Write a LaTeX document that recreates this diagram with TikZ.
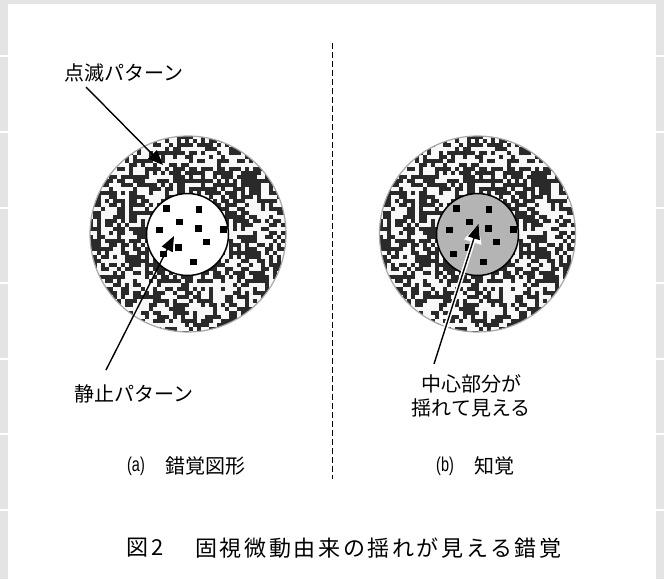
\documentclass[tikz,border=0pt]{standalone}
\usepackage{fontspec}
\setmainfont{Noto Sans CJK JP}
\newfontfamily\condfont{Liberation Sans}[FakeStretch=0.72]
\usetikzlibrary{arrows.meta}
\definecolor{bggray}{HTML}{E4E4E4}
\definecolor{noisecol}{HTML}{2A2A2A}
\definecolor{lightcell}{HTML}{F8F8F8}
\definecolor{rimcol}{HTML}{A8A8A8}
\definecolor{centergray}{HTML}{B4B4B4}
\newcommand\noisedisk[2]{%
  \begin{scope}
    \clip (#1,#2) circle[radius=98];
    \fill[lightcell] (#1,#2) circle[radius=98];
    \pgfmathsetseed{4242}
    \foreach \ii in {0,...,49}{%
      \foreach \jj in {0,...,49}{%
        \pgfmathrandominteger{\rnd}{0}{99}%
        \ifnum\rnd<50
          \fill[noisecol] ({#1-99+4*\ii},{#2-99+4*\jj}) rectangle +(4.05,4.05);
        \fi
      }%
    }
  \end{scope}
  \draw[rimcol, line width=1.2pt] (#1,#2) circle[radius=98];
}
\newcommand\centerdots[2]{%
  \foreach \dx/\dy in {-20.8/-26.2, 11.5/-25, -8.2/-12.5, -28.3/-4.5, 11/-5.8,
                      36/-5.2, 19.2/7.3, -9.2/12.8, -24.2/19.5, 5.8/27.3}{%
    \fill[black] ({#1+\dx-3.3},{#2+\dy-3.3}) rectangle +(6.6,6.6);
  }%
}
\begin{document}
\begin{tikzpicture}[x=1pt,y=-1pt,
  lbl/.style={font=\fontsize{20}{24}\selectfont, inner sep=0pt, text=black},
  cond/.style={font=\condfont\fontsize{20}{24}\selectfont, inner sep=0pt, text=black},
  captxt/.style={font=\fontsize{22}{26}\selectfont\addfontfeature{LetterSpace=12}, inner sep=0pt, text=black},
  ptr/.style={line width=1.4pt, -{Triangle[length=15pt,width=12pt]}},
  halo/.style={white, line width=4.5pt, -{Triangle[length=19pt,width=17pt]}},
  divider/.style={black, line width=0.8pt, dash pattern=on 6pt off 3pt}]
\useasboundingbox (0,0) rectangle (664,579);
\fill[bggray] (0,0) rectangle (664,579);
\fill[white] (8,4) rectangle (656,579);
\foreach \yy in {55,131,207,282,358,433,509}{%
  \fill[white] (0,\yy) rectangle (8,{\yy+1.5});
  \fill[white] (656,\yy) rectangle (664,{\yy+1.5});
}
% divider
\coordinate (dTop) at (332,43);
\coordinate (dBot) at (332,479);
\draw[divider] (dTop) -- (dBot);
% left figure
\noisedisk{188}{234}
\draw[black, line width=1.5pt, fill=white] (187.5,234.5) circle[radius=41];
\centerdots{187.5}{234.5}
% right figure
\noisedisk{477.5}{234}
\draw[black, line width=1.5pt, fill=centergray] (477.5,234.5) circle[radius=41];
\centerdots{477.5}{234.5}
% labels
\node[lbl] (blink) at (124,73) {点滅パターン};
\node[lbl] (static) at (134,394) {静止パターン};
\node[lbl] (center1) at (471,384) {中心部分が};
\node[lbl] (center2) at (471,408) {揺れて見える};
\node[cond, anchor=west] (pa) at (127,466) {(a)};
\node[lbl, anchor=west] (illusion) at (165,466) {錯覚図形};
\node[cond, anchor=west] (pb) at (436,466) {(b)};
\node[lbl, anchor=west] (percept) at (474,466) {知覚};
\node[captxt, anchor=west] (capnum) at (126,548) {図\,2};
\node[captxt, anchor=west] (captext) at (195,548) {固視微動由来の揺れが見える錯覚};
% arrows
\coordinate (sA) at (86,87);
\coordinate (tA) at (163,165);
\coordinate (sB) at (106,370);
\coordinate (tB) at (174,236);
\coordinate (sC) at (434,364);
\coordinate (tC) at (478.5,224);
\draw[ptr] (sA) -- (tA);
\draw[ptr] (sB) -- (tB);
\draw[halo] (sC) -- (tC);
\draw[ptr] (sC) -- (tC);
\end{tikzpicture}
\end{document}
